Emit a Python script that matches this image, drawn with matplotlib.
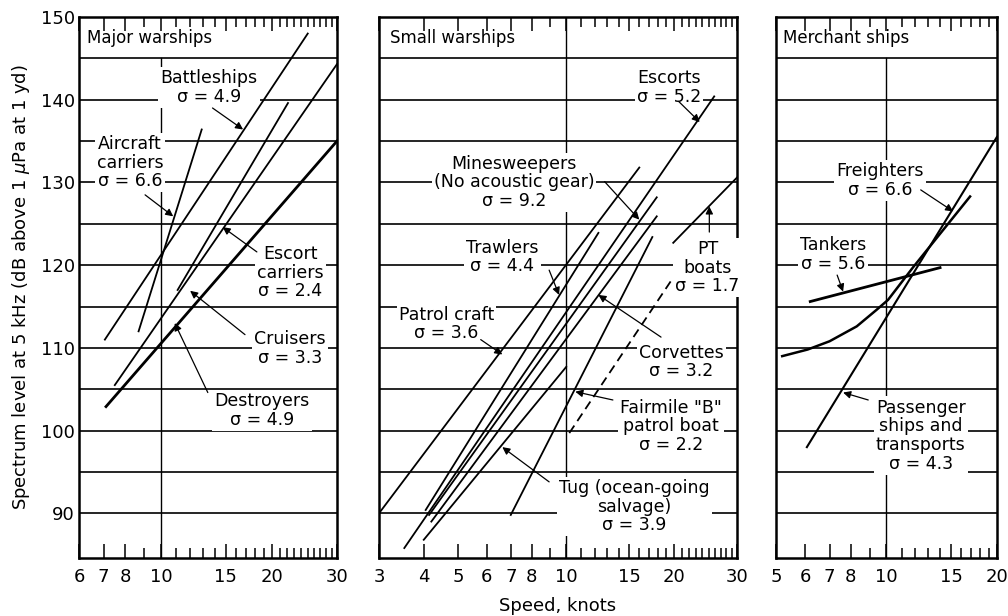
import matplotlib
matplotlib.use('Agg')
import matplotlib.pyplot as plt
from matplotlib.ticker import FixedLocator, NullFormatter

plt.rcParams['font.family'] = ['DejaVu Sans']

# values: speed in knots, level in dB
major_names = ['Battleships', 'Aircraft carriers', 'Escort carriers', 'Cruisers', 'Destroyers']
major_speed = [[7.05, 25.0], [8.7, 12.9], [11.1, 22.1], [7.5, 30.0], [7.1, 30.0]]
major_level = [[111.0, 148.0], [112.0, 136.4], [117.0, 139.6], [105.5, 144.3], [102.9, 135.0]]

small_names = ['Escorts', 'Minesweepers', 'Trawlers', 'Patrol craft', 'Corvettes',
               'Fairmile B', 'Tug', 'PT boats', 'PT boats (low speed)']
small_speed = [[3.53, 25.9], [4.14, 17.9], [4.05, 12.3], [3.0, 16.0], [4.2, 17.9],
               [7.0, 17.4], [4.0, 10.0], [19.9, 30.0], [10.2, 19.9]]
small_level = [[85.8, 140.4], [89.8, 128.2], [90.4, 123.9], [90.0, 131.8], [89.0, 125.9],
               [89.8, 123.4], [86.8, 107.7], [122.7, 130.6], [99.7, 118.5]]

freighter_speed = [5.2, 6.1, 7.0, 8.3, 9.4, 10.1, 11.8, 16.9]
freighter_level = [109.0, 109.8, 110.8, 112.6, 114.6, 115.8, 119.7, 128.3]
tanker_speed = [6.2, 14.0]
tanker_level = [115.6, 119.7]
passenger_speed = [6.07, 20.0]
passenger_level = [98.0, 135.5]

ticks1 = [6, 7, 8, 10, 15, 20, 30]
ticks2 = [3, 4, 5, 6, 7, 8, 10, 15, 20, 30]
ticks3 = [5, 6, 7, 8, 10, 15, 20]
y_ticks = [90, 100, 110, 120, 130, 140, 150]
YMIN, YMAX = 84.6, 150

fig = plt.figure(figsize=(10.08, 6.16), dpi=100)


def make_panel(rect, xlim, ticks, title, grid_top=145):
    ax = fig.add_axes(rect)
    ax.set_xscale('log')
    ax.set_xlim(*xlim)
    ax.set_ylim(YMIN, YMAX)
    ax.xaxis.set_major_locator(FixedLocator(ticks))
    ax.set_xticklabels([str(t) for t in ticks])
    minors = [k for k in range(xlim[0], xlim[1] + 1) if k not in ticks]
    ax.xaxis.set_minor_locator(FixedLocator(minors))
    ax.xaxis.set_minor_formatter(NullFormatter())
    ax.tick_params(axis='x', which='both', direction='in', top=True, bottom=True,
                   width=1.1, labelsize=13, pad=7)
    ax.tick_params(axis='x', which='major', length=10)
    ax.tick_params(axis='x', which='minor', length=7)
    for s in ax.spines.values():
        s.set_linewidth(1.8)
    for y in range(90, 146, 5):
        ax.axhline(y, color='k', lw=1.2, zorder=1)
    ax.plot([10, 10], [YMIN, grid_top], color='k', lw=1.0, zorder=1)
    ax.text(0.03, 147.5, title, transform=ax.get_yaxis_transform(),
            ha='left', va='center', fontsize=12)
    return ax


def label(ax, x, y, s, tail=None, tip=None):
    ax.text(x, y, s, ha='center', va='center', fontsize=12.5, linespacing=1.05,
            bbox=dict(fc='white', ec='none', pad=1.5), zorder=3)
    if tail is not None:
        ax.annotate('', xy=tip, xytext=tail, zorder=5,
                    arrowprops=dict(arrowstyle='-|>', color='k', lw=0.9,
                                    mutation_scale=11, shrinkA=0, shrinkB=0))


# panel 1: major warships
ax1 = make_panel([0.0784, 0.0942, 0.2559, 0.8782], (6, 30), ticks1, 'Major warships')
for name, xs, ys in zip(major_names, major_speed, major_level):
    ax1.plot(xs, ys, color='k', lw=2.0 if name == 'Destroyers' else 1.3, zorder=4)
ax1.set_yticks(y_ticks)
ax1.tick_params(axis='y', length=0, labelsize=13, pad=3)
ax1.set_ylabel('Spectrum level at 5 kHz (dB above 1 $\\mu$Pa at 1 yd)', fontsize=13, labelpad=6)
label(ax1, 13.5, 141.5, 'Battleships\nσ = 4.9', (13.8, 139.0), (16.7, 136.4))
label(ax1, 8.25, 132.4, 'Aircraft\ncarriers\nσ = 6.6', (9.06, 128.5), (10.8, 125.9))
label(ax1, 22.4, 119.1, 'Escort\ncarriers\nσ = 2.4', (18.2, 121.6), (14.7, 124.6))
label(ax1, 22.4, 109.9, 'Cruisers\nσ = 3.3', (16.9, 111.6), (12.0, 116.9))
label(ax1, 18.8, 102.4, 'Destroyers\nσ = 4.9', (13.4, 104.6), (10.9, 113.0))

# panel 2: small warships
ax2 = make_panel([0.376, 0.0942, 0.3552, 0.8782], (3, 30), ticks2, 'Small warships', grid_top=150)
for name, xs, ys in zip(small_names, small_speed, small_level):
    ls = (0, (5, 3)) if name == 'PT boats (low speed)' else '-'
    ax2.plot(xs, ys, color='k', lw=1.3, ls=ls, zorder=4)
ax2.set_yticks([])
label(ax2, 19.4, 141.5, 'Escorts\nσ = 5.2', (20.6, 139.8), (23.6, 137.3))
label(ax2, 7.15, 130.0, 'Minesweepers\n(No acoustic gear)\nσ = 9.2', (12.8, 130.1), (16.0, 125.5))
label(ax2, 6.63, 121.0, 'Trawlers\nσ = 4.4', (8.96, 119.4), (9.55, 116.4))
label(ax2, 4.63, 112.9, 'Patrol craft\nσ = 3.6', (5.77, 111.0), (6.63, 109.2))
label(ax2, 24.8, 119.7, 'PT\nboats\nσ = 1.7', (25.1, 124.0), (25.1, 127.1))
label(ax2, 21.0, 108.3, 'Corvettes\nσ = 3.2', (18.4, 111.3), (12.3, 116.4))
label(ax2, 19.6, 100.5, 'Fairmile "B"\npatrol boat\nσ = 2.2', (13.5, 103.7), (10.6, 104.7))
label(ax2, 15.5, 90.8, 'Tug (ocean-going\nsalvage)\nσ = 3.9', (8.96, 93.8), (6.63, 98.0))
ax2.set_xlabel('Speed, knots', fontsize=13, labelpad=8)

# panel 3: merchant ships
ax3 = make_panel([0.7698, 0.0942, 0.2192, 0.8782], (5, 20), ticks3, 'Merchant ships')
ax3.plot(freighter_speed, freighter_level, color='k', lw=1.8, zorder=4)
ax3.plot(tanker_speed, tanker_level, color='k', lw=2.0, zorder=4)
ax3.plot(passenger_speed, passenger_level, color='k', lw=1.5, zorder=4)
ax3.set_yticks([])
label(ax3, 9.6, 130.2, 'Freighters\nσ = 6.6', (12.4, 129.1), (15.2, 126.5))
label(ax3, 7.16, 121.3, 'Tankers\nσ = 5.6', (7.34, 118.8), (7.62, 116.8))
label(ax3, 12.4, 99.4, 'Passenger\nships and\ntransports\nσ = 4.3', (8.92, 103.7), (7.62, 104.6))

fig.savefig('out.png', dpi=100)
